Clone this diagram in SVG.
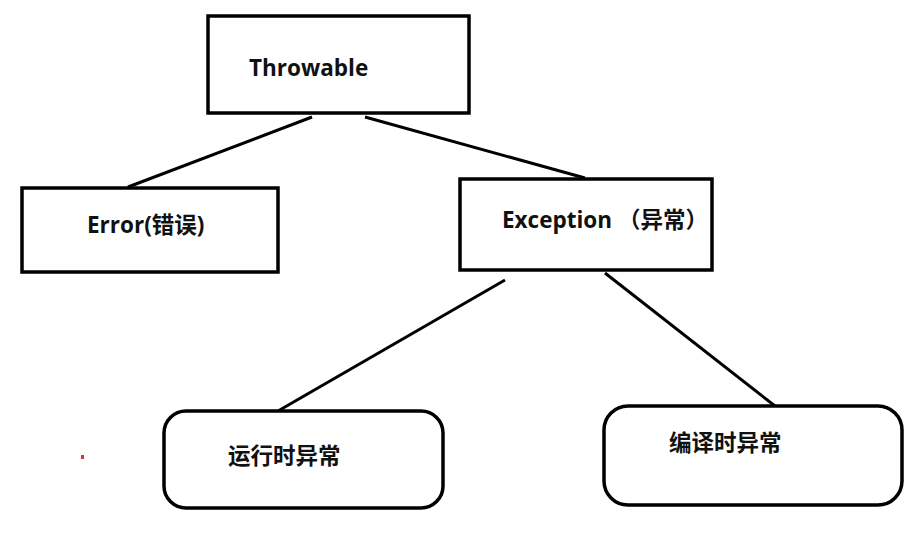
<svg xmlns="http://www.w3.org/2000/svg" width="915" height="535" viewBox="0 0 915 535">
<style>
.box{fill:#fff;stroke:#000;stroke-width:3.5}
.lbl{font-family:"Open Sans","Noto Sans CJK SC",sans-serif;font-weight:bold;font-size:22.5px;fill:#111}
.cn{font-family:"Noto Sans CJK SC",sans-serif;font-weight:bold;font-size:22.5px;fill:#111}
.edge{stroke:#000;stroke-width:3;fill:none}
</style>
<rect width="915" height="535" fill="#fff"/>
<g id="connectors">
<line class="edge" x1="312" y1="117" x2="128" y2="187"/>
<line class="edge" x1="365" y1="117" x2="585" y2="178"/>
<line class="edge" x1="505" y1="280" x2="278" y2="411"/>
<line class="edge" x1="605" y1="273" x2="775" y2="406"/>
</g>
<g id="throwable">
<rect class="box" x="208" y="16" width="261" height="97"/>
<text class="lbl" x="249" y="76">Throwable</text>
</g>
<g id="error">
<rect class="box" x="22" y="188" width="256" height="84"/>
<text class="lbl" x="87" y="233">Error(<tspan class="cn">错误</tspan>)</text>
</g>
<g id="exception">
<rect class="box" x="460" y="179" width="252" height="91"/>
<text class="lbl" x="502" y="228">Exception <tspan class="cn">（异常）</tspan></text>
</g>
<g id="runtime">
<rect class="box" x="164" y="411" width="279" height="97" rx="22" ry="22"/>
<text class="cn" x="228" y="464">运行时异常</text>
</g>
<g id="compile">
<rect class="box" x="604" y="406" width="298" height="99" rx="24" ry="24"/>
<text class="cn" x="669" y="451">编译时异常</text>
</g>
<rect x="81" y="455" width="3" height="4" fill="#e03030"/>
</svg>
